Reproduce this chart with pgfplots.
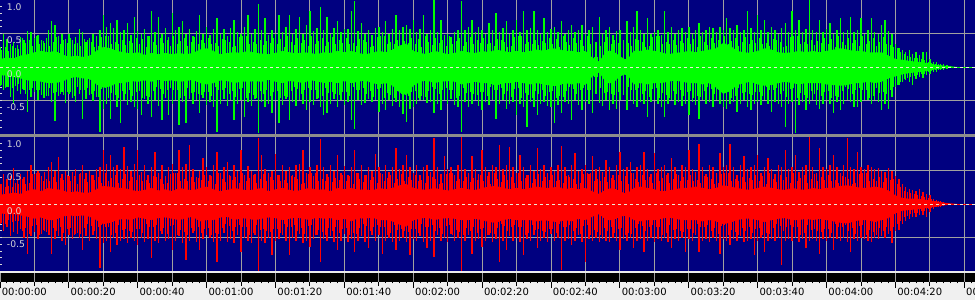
\documentclass[border=0pt]{standalone}
\usepackage{fontspec}
\setmainfont{DejaVu Sans}
\usepackage{pgfplots}
\usepackage{pgfplotstable}
\pgfplotsset{compat=1.18}
\usepgfplotslibrary{fillbetween}
\definecolor{navy}{RGB}{0,0,128}
\definecolor{gridc}{RGB}{160,160,160}
\definecolor{wgreen}{RGB}{0,255,0}
\definecolor{wred}{RGB}{255,0,0}
\definecolor{sepc}{RGB}{140,140,140}
\definecolor{rulerbg}{RGB}{240,240,240}
\definecolor{lab}{RGB}{215,215,215}
\definecolor{dashc}{RGB}{235,235,215}

% peak values per second: t, upper/lower of top (L) and bottom (R) channel
\pgfplotstableread{
t uL dL uR dR
0 .30 -.28 .30 -.30
1 .50 -.35 .45 -.40
2 .42 -.30 .38 -.35
3 .35 -.45 .42 -.48
4 .38 -.55 .53 -.42
5 .33 -.36 .36 -.45
6 .45 -.40 .45 -.38
7 .40 -.35 .40 -.50
8 .54 -.67 .50 -.74
9 .52 -.45 .58 -.48
10 .44 -.38 .45 -.42
11 .48 -.50 .50 -.52
12 .40 -.42 .42 -.45
13 .36 -.47 .48 -.40
14 .55 -.44 .55 -.47
15 .69 -.52 .63 -.74
16 .62 -.80 .50 -.52
17 .47 -.43 .70 -.48
18 .50 -.38 .45 -.55
19 .42 -.54 .50 -.61
20 .49 -.40 .42 -.46
21 .40 -.46 .48 -.52
22 .45 -.52 .52 -.45
23 .56 -.40 .45 -.50
24 .52 -.77 .58 -.69
25 .38 -.48 .47 -.48
26 .43 -.42 .50 -.55
27 .50 -.51 .44 -.47
28 .47 -.45 .52 -.52
29 .55 -.97 .55 -.96
30 .78 -.62 .80 -.58
31 .60 -.55 .60 -.55
32 .65 -.77 .73 -.71
33 .58 -.50 .55 -.50
34 .70 -.60 .58 -.61
35 .52 -.84 .52 -.55
36 .55 -.49 .85 -.52
37 .65 -.56 .56 -.58
38 .48 -.52 .50 -.50
39 .75 -.60 .60 -.55
40 .54 -.62 .80 -.61
41 .50 -.72 .48 -.50
42 .57 -.48 .58 -.56
43 .46 -.55 .44 -.52
44 .83 -.74 .55 -.81
45 .52 -.50 .78 -.55
46 .75 -.58 .47 -.58
47 .50 -.79 .58 -.45
48 .58 -.47 .42 -.55
49 .45 -.72 .55 -.52
50 .80 -.55 .60 -.69
51 .55 -.50 .46 -.55
52 .60 -.87 .80 -.48
53 .68 -.52 .55 -.58
54 .49 -.84 .60 -.84
55 .56 -.48 .88 -.55
56 .47 -.55 .52 -.44
57 .53 -.50 .41 -.56
58 .78 -.69 .50 -.69
59 .50 -.47 .68 -.52
60 .60 -.56 .55 -.46
61 .48 -.52 .44 -.50
62 .57 -.60 .58 -.56
63 .73 -.97 .78 -.86
64 .50 -.55 .47 -.55
65 .56 -.48 .55 -.43
66 .46 -.58 .63 -.56
67 .58 -.50 .42 -.52
68 .70 -.79 .58 -.58
69 .52 -.55 .49 -.47
70 .49 -.50 .80 -.71
71 .60 -.74 .44 -.50
72 .78 -.52 .56 -.55
73 .50 -.58 .50 -.58
74 .56 -.48 .45 -.47
75 .94 -.99 .99 -1.0
76 .55 -.52 .73 -.55
77 .73 -.60 .52 -.58
78 .48 -.55 .46 -.50
79 .55 -.69 .50 -.76
80 .50 -.50 .75 -.55
81 .78 -.84 .44 -.52
82 .52 -.56 .58 -.46
83 .60 -.48 .50 -.55
84 .78 -.79 .55 -.76
85 .50 -.52 .43 -.50
86 .57 -.58 .58 -.55
87 .75 -.50 .60 -.45
88 .50 -.55 .80 -.58
89 .62 -.64 .47 -.55
90 .83 -.52 .55 -.64
91 .53 -.56 .42 -.52
92 .58 -.48 .58 -.46
93 .89 -.60 .97 -.86
94 .55 -.72 .55 -.52
95 .75 -.69 .45 -.55
96 .50 -.55 .58 -.48
97 .58 -.48 .50 -.56
98 .68 -.59 .73 -.69
99 .52 -.50 .46 -.55
100 .57 -.56 .56 -.45
101 .56 -.52 .44 -.56
102 .83 -.79 .55 -.52
103 .98 -.92 .80 -.71
104 .53 -.50 .47 -.55
105 .65 -.57 .58 -.48
106 .50 -.54 .43 -.56
107 .55 -.48 .55 -.66
108 .48 -.52 .50 -.47
109 .58 -.50 .75 -.55
110 .60 -.67 .55 -.46
111 .52 -.55 .45 -.74
112 .68 -.64 .58 -.55
113 .50 -.50 .48 -.50
114 .56 -.58 .55 -.56
115 .78 -.52 .83 -.69
116 .55 -.60 .52 -.55
117 .60 -.70 .58 -.50
118 .63 -.82 .73 -.56
119 .56 -.62 .55 -.76
120 .70 -.59 .46 -.52
121 .52 -.55 .58 -.55
122 .57 -.50 .44 -.48
123 .78 -.49 .55 -.56
124 .50 -.54 .58 -.66
125 .55 -.52 .48 -.55
126 1.0 -.69 .99 -.79
127 .52 -.55 .55 -.47
128 .70 -.64 .45 -.55
129 .48 -.50 .71 -.50
130 .50 -.55 .52 -.56
131 .45 -.48 .55 -.45
132 .52 -.56 .43 -.55
133 .55 -.60 .58 -.50
134 .98 -.97 1.0 -1.0
135 .55 -.52 .52 -.55
136 .60 -.59 .47 -.46
137 .70 -.55 .71 -.74
138 .52 -.50 .52 -.55
139 .60 -.58 .45 -.52
140 .55 -.64 .80 -.64
141 .50 -.52 .55 -.55
142 .65 -.56 .48 -.47
143 .55 -.50 .58 -.56
144 .81 -.77 .55 -.52
145 .52 -.55 .88 -.86
146 .58 -.50 .52 -.55
147 .68 -.62 .58 -.69
148 .50 -.55 .85 -.48
149 .55 -.52 .55 -.55
150 .70 -.72 .46 -.50
151 .52 -.55 .73 -.56
152 .83 -.60 .55 -.76
153 .55 -.89 .44 -.52
154 .58 -.52 .58 -.55
155 .83 -.60 .50 -.47
156 .55 -.72 .83 -.66
157 .50 -.55 .52 -.55
158 .73 -.52 .58 -.50
159 .52 -.58 .46 -.56
160 .56 -.60 .55 -.45
161 .60 -.84 .49 -.55
162 .52 -.56 .58 -.50
163 .68 -.69 .86 -.98
164 .50 -.52 .55 -.55
165 .55 -.55 .44 -.52
166 .63 -.79 .58 -.61
167 .52 -.50 .76 -.55
168 .55 -.56 .50 -.47
169 .63 -.64 .52 -.56
170 .50 -.52 .58 -.86
171 .55 -.55 .45 -.52
172 .60 -.69 .71 -.55
173 .38 -.40 .52 -.50
174 .75 -.54 .55 -.56
175 .50 -.58 .48 -.52
176 .55 -.50 .66 -.55
177 .60 -.64 .55 -.56
178 .48 -.55 .44 -.50
179 .53 -.62 .58 -.55
180 .55 -.50 .78 -.69
181 .40 -.42 .52 -.52
182 .68 -.64 .55 -.55
183 .52 -.50 .63 -.50
184 .60 -.55 .47 -.66
185 .83 -.59 .55 -.55
186 .55 -.52 .58 -.52
187 .50 -.55 .78 -.71
188 .73 -.74 .52 -.55
189 .50 -.52 .45 -.50
190 .52 -.50 .76 -.56
191 .55 -.55 .52 -.52
192 .48 -.60 .55 -.55
193 .83 -.74 .58 -.50
194 .52 -.55 .46 -.56
195 .60 -.50 .68 -.66
196 .50 -.56 .55 -.52
197 .55 -.52 .44 -.55
198 .58 -.58 .58 -.50
199 .52 -.55 .55 -.71
200 .60 -.72 .80 -.52
201 .50 -.52 .52 -.55
202 .55 -.56 .48 -.46
203 .65 -.77 .90 -.71
204 .52 -.50 .55 -.55
205 .55 -.55 .45 -.52
206 .60 -.52 .58 -.56
207 .58 -.59 .55 -.50
208 .52 -.50 .47 -.55
209 .60 -.55 .76 -.74
210 .55 -.60 .55 -.52
211 .73 -.62 .58 -.55
212 .58 -.55 .90 -.61
213 .55 -.52 .55 -.52
214 .63 -.67 .44 -.55
215 .52 -.55 .58 -.48
216 .55 -.50 .71 -.56
217 .83 -.60 .52 -.55
218 .58 -.64 .55 -.52
219 .52 -.55 .58 -.76
220 .78 -.52 .73 -.55
221 .55 -.57 .46 -.50
222 .70 -.50 .55 -.71
223 .52 -.55 .68 -.55
224 .60 -.67 .52 -.52
225 .55 -.52 .45 -.55
226 .50 -.55 .58 -.50
227 .58 -.60 .55 -.91
228 .65 -.89 .80 -.55
229 .52 -.55 .52 -.52
230 .83 -.52 .55 -.55
231 .55 -.99 .73 -.50
232 .70 -.56 .48 -.56
233 .52 -.52 .55 -.52
234 .56 -.64 .58 -.66
235 1.0 -.55 1.0 -.55
236 .55 -.50 .55 -.52
237 .52 -.56 .46 -.55
238 .70 -.62 .83 -.74
239 .52 -.55 .55 -.52
240 .56 -.50 .52 -.55
241 .65 -.55 .58 -.50
242 .50 -.69 .73 -.69
243 .55 -.52 .55 -.52
244 .73 -.64 .47 -.55
245 .52 -.55 .58 -.50
246 .55 -.50 .98 -.56
247 .75 -.52 .55 -.71
248 .52 -.60 .52 -.52
249 .55 -.59 .78 -.55
250 .73 -.52 .55 -.50
251 .50 -.49 .52 -.52
252 .55 -.50 .58 -.55
253 .73 -.55 .55 -.56
254 .52 -.50 .52 -.50
255 .50 -.52 .53 -.52
256 .63 -.64 .50 -.48
257 .70 -.55 .48 -.50
258 .53 -.62 .53 -.45
259 .50 -.45 .50 -.58
260 .35 -.30 .42 -.40
261 .28 -.27 .38 -.39
262 .25 -.22 .30 -.30
263 .22 -.20 .25 -.25
264 .25 -.22 .22 -.22
265 .20 -.27 .21 -.20
266 .23 -.18 .20 -.19
267 .18 -.15 .23 -.17
268 .23 -.16 .18 -.16
269 .22 -.12 .15 -.19
270 .12 -.10 .13 -.12
271 .08 -.07 .08 -.07
272 .08 -.07 .06 -.05
273 .05 -.05 .04 -.04
274 .04 -.04 .03 -.03
275 .03 -.03 .02 -.02
276 .02 -.02 0 0
}\spk

% lower fringe spikes between the whole seconds
\pgfplotstableread{
t mL nL mR nR
0.5 .26 -.27 .30 -.28
1.5 .30 -.32 .26 -.30
2.5 .24 -.30 .27 -.24
3.5 .32 -.31 .25 -.27
4.5 .29 -.28 .31 -.26
5.5 .27 -.25 .30 -.25
6.5 .44 -.33 .37 -.41
7.5 .36 -.40 .30 -.36
8.5 .40 -.35 .31 -.45
9.5 .31 -.32 .45 -.33
10.5 .47 -.34 .46 -.32
11.5 .35 -.34 .47 -.46
12.5 .39 -.46 .34 -.39
13.5 .43 -.44 .38 -.42
14.5 .32 -.31 .35 -.47
15.5 .37 -.39 .41 -.36
16.5 .45 -.37 .33 -.40
17.5 .34 -.41 .39 -.34
18.5 .41 -.42 .36 -.44
19.5 .36 -.38 .44 -.37
20.5 .43 -.38 .34 -.36
21.5 .34 -.43 .42 -.47
22.5 .36 -.30 .30 -.43
23.5 .32 -.35 .46 -.45
24.5 .42 -.34 .38 -.36
25.5 .40 -.31 .33 -.30
26.5 .37 -.41 .44 -.33
27.5 .30 -.36 .36 -.40
28.5 .31 -.45 .40 -.35
29.5 .45 -.33 .31 -.32
30.5 .46 -.32 .47 -.34
31.5 .47 -.46 .35 -.34
32.5 .34 -.39 .39 -.46
33.5 .38 -.42 .43 -.44
34.5 .35 -.47 .32 -.31
35.5 .41 -.36 .37 -.39
36.5 .33 -.40 .45 -.37
37.5 .39 -.34 .34 -.41
38.5 .36 -.44 .41 -.42
39.5 .44 -.37 .36 -.38
40.5 .34 -.36 .43 -.38
41.5 .42 -.47 .34 -.43
42.5 .30 -.43 .36 -.30
43.5 .46 -.45 .32 -.35
44.5 .38 -.36 .42 -.34
45.5 .33 -.30 .40 -.31
46.5 .44 -.33 .37 -.41
47.5 .36 -.40 .30 -.36
48.5 .40 -.35 .31 -.45
49.5 .31 -.32 .45 -.33
50.5 .47 -.34 .46 -.32
51.5 .35 -.34 .47 -.46
52.5 .39 -.46 .34 -.39
53.5 .43 -.44 .38 -.42
54.5 .32 -.31 .35 -.47
55.5 .37 -.39 .41 -.36
56.5 .45 -.37 .33 -.40
57.5 .34 -.41 .39 -.34
58.5 .41 -.42 .36 -.44
59.5 .36 -.38 .44 -.37
60.5 .43 -.38 .34 -.36
61.5 .34 -.43 .42 -.47
62.5 .36 -.30 .30 -.43
63.5 .32 -.35 .46 -.45
64.5 .42 -.34 .38 -.36
65.5 .40 -.31 .33 -.30
66.5 .37 -.41 .44 -.33
67.5 .30 -.36 .36 -.40
68.5 .31 -.45 .40 -.35
69.5 .45 -.33 .31 -.32
70.5 .46 -.32 .47 -.34
71.5 .47 -.46 .35 -.34
72.5 .34 -.39 .39 -.46
73.5 .38 -.42 .43 -.44
74.5 .35 -.47 .32 -.31
75.5 .41 -.36 .37 -.39
76.5 .33 -.40 .45 -.37
77.5 .39 -.34 .34 -.41
78.5 .36 -.44 .41 -.42
79.5 .44 -.37 .36 -.38
80.5 .34 -.36 .43 -.38
81.5 .42 -.47 .34 -.43
82.5 .30 -.43 .36 -.30
83.5 .46 -.45 .32 -.35
84.5 .38 -.36 .42 -.34
85.5 .33 -.30 .40 -.31
86.5 .44 -.33 .37 -.41
87.5 .36 -.40 .30 -.36
88.5 .40 -.35 .31 -.45
89.5 .31 -.32 .45 -.33
90.5 .47 -.34 .46 -.32
91.5 .35 -.34 .47 -.46
92.5 .39 -.46 .34 -.39
93.5 .43 -.44 .38 -.42
94.5 .32 -.31 .35 -.47
95.5 .37 -.39 .41 -.36
96.5 .45 -.37 .33 -.40
97.5 .34 -.41 .39 -.34
98.5 .41 -.42 .36 -.44
99.5 .36 -.38 .44 -.37
100.5 .43 -.38 .34 -.36
101.5 .34 -.43 .42 -.47
102.5 .36 -.30 .30 -.43
103.5 .32 -.35 .46 -.45
104.5 .42 -.34 .38 -.36
105.5 .40 -.31 .33 -.30
106.5 .37 -.41 .44 -.33
107.5 .30 -.36 .36 -.40
108.5 .31 -.45 .40 -.35
109.5 .45 -.33 .31 -.32
110.5 .46 -.32 .47 -.34
111.5 .47 -.46 .35 -.34
112.5 .34 -.39 .39 -.46
113.5 .38 -.42 .43 -.44
114.5 .35 -.47 .32 -.31
115.5 .41 -.36 .37 -.39
116.5 .33 -.40 .45 -.37
117.5 .39 -.34 .34 -.41
118.5 .36 -.44 .41 -.42
119.5 .44 -.37 .36 -.38
120.5 .34 -.36 .43 -.38
121.5 .42 -.47 .34 -.43
122.5 .30 -.43 .36 -.30
123.5 .46 -.45 .32 -.35
124.5 .38 -.36 .42 -.34
125.5 .33 -.30 .40 -.31
126.5 .44 -.33 .37 -.41
127.5 .36 -.40 .30 -.36
128.5 .40 -.35 .31 -.45
129.5 .31 -.32 .45 -.33
130.5 .47 -.34 .46 -.32
131.5 .35 -.34 .47 -.46
132.5 .39 -.46 .34 -.39
133.5 .43 -.44 .38 -.42
134.5 .32 -.31 .35 -.47
135.5 .37 -.39 .41 -.36
136.5 .45 -.37 .33 -.40
137.5 .34 -.41 .39 -.34
138.5 .41 -.42 .36 -.44
139.5 .36 -.38 .44 -.37
140.5 .43 -.38 .34 -.36
141.5 .34 -.43 .42 -.47
142.5 .36 -.30 .30 -.43
143.5 .32 -.35 .46 -.45
144.5 .42 -.34 .38 -.36
145.5 .40 -.31 .33 -.30
146.5 .37 -.41 .44 -.33
147.5 .30 -.36 .36 -.40
148.5 .31 -.45 .40 -.35
149.5 .45 -.33 .31 -.32
150.5 .46 -.32 .47 -.34
151.5 .47 -.46 .35 -.34
152.5 .34 -.39 .39 -.46
153.5 .38 -.42 .43 -.44
154.5 .35 -.47 .32 -.31
155.5 .41 -.36 .37 -.39
156.5 .33 -.40 .45 -.37
157.5 .39 -.34 .34 -.41
158.5 .36 -.44 .41 -.42
159.5 .44 -.37 .36 -.38
160.5 .34 -.36 .43 -.38
161.5 .42 -.47 .34 -.43
162.5 .30 -.43 .36 -.30
163.5 .46 -.45 .32 -.35
164.5 .38 -.36 .42 -.34
165.5 .33 -.30 .40 -.31
166.5 .44 -.33 .37 -.41
167.5 .36 -.40 .30 -.36
168.5 .40 -.35 .31 -.45
169.5 .31 -.32 .45 -.33
170.5 .47 -.34 .46 -.32
171.5 .35 -.34 .47 -.46
172.5 .15 -.15 .34 -.39
173.5 .15 -.15 .38 -.42
174.5 .32 -.31 .35 -.47
175.5 .37 -.39 .41 -.36
176.5 .45 -.37 .33 -.40
177.5 .34 -.41 .39 -.34
178.5 .41 -.42 .36 -.44
179.5 .36 -.38 .44 -.37
180.5 .12 -.12 .34 -.36
181.5 .12 -.12 .42 -.47
182.5 .36 -.30 .30 -.43
183.5 .32 -.35 .46 -.45
184.5 .42 -.34 .38 -.36
185.5 .40 -.31 .33 -.30
186.5 .37 -.41 .44 -.33
187.5 .30 -.36 .36 -.40
188.5 .31 -.45 .40 -.35
189.5 .45 -.33 .31 -.32
190.5 .46 -.32 .47 -.34
191.5 .47 -.46 .35 -.34
192.5 .34 -.39 .39 -.46
193.5 .38 -.42 .43 -.44
194.5 .35 -.47 .32 -.31
195.5 .41 -.36 .37 -.39
196.5 .33 -.40 .45 -.37
197.5 .39 -.34 .34 -.41
198.5 .36 -.44 .41 -.42
199.5 .44 -.37 .36 -.38
200.5 .34 -.36 .43 -.38
201.5 .42 -.47 .34 -.43
202.5 .30 -.43 .36 -.30
203.5 .46 -.45 .32 -.35
204.5 .38 -.36 .42 -.34
205.5 .33 -.30 .40 -.31
206.5 .44 -.33 .37 -.41
207.5 .36 -.40 .30 -.36
208.5 .40 -.35 .31 -.45
209.5 .31 -.32 .45 -.33
210.5 .47 -.34 .46 -.32
211.5 .35 -.34 .47 -.46
212.5 .39 -.46 .34 -.39
213.5 .43 -.44 .38 -.42
214.5 .32 -.31 .35 -.47
215.5 .37 -.39 .41 -.36
216.5 .45 -.37 .33 -.40
217.5 .34 -.41 .39 -.34
218.5 .41 -.42 .36 -.44
219.5 .36 -.38 .44 -.37
220.5 .43 -.38 .34 -.36
221.5 .34 -.43 .42 -.47
222.5 .36 -.30 .30 -.43
223.5 .32 -.35 .46 -.45
224.5 .42 -.34 .38 -.36
225.5 .40 -.31 .33 -.30
226.5 .37 -.41 .44 -.33
227.5 .30 -.36 .36 -.40
228.5 .31 -.45 .40 -.35
229.5 .45 -.33 .31 -.32
230.5 .46 -.32 .47 -.34
231.5 .47 -.46 .35 -.34
232.5 .34 -.39 .39 -.46
233.5 .38 -.42 .43 -.44
234.5 .35 -.47 .32 -.31
235.5 .41 -.36 .37 -.39
236.5 .33 -.40 .45 -.37
237.5 .39 -.34 .34 -.41
238.5 .36 -.44 .41 -.42
239.5 .44 -.37 .36 -.38
240.5 .34 -.36 .43 -.38
241.5 .42 -.47 .34 -.43
242.5 .30 -.43 .36 -.30
243.5 .46 -.45 .32 -.35
244.5 .38 -.36 .42 -.34
245.5 .33 -.30 .40 -.31
246.5 .44 -.33 .37 -.41
247.5 .36 -.40 .30 -.36
248.5 .40 -.35 .31 -.45
249.5 .31 -.32 .45 -.33
250.5 .47 -.34 .46 -.32
251.5 .35 -.34 .47 -.46
252.5 .39 -.46 .34 -.39
253.5 .43 -.44 .38 -.42
254.5 .32 -.31 .35 -.47
255.5 .37 -.39 .41 -.36
256.5 .45 -.37 .33 -.40
257.5 .34 -.41 .39 -.34
258.5 .33 -.35 .36 -.40
259.5 .30 -.30 .38 -.34
260.5 .28 -.27 .30 -.30
261.5 .22 -.22 .25 -.26
262.5 .20 -.18 .20 -.20
263.5 .17 -.16 .18 -.18
264.5 .15 -.15 .16 -.15
265.5 .14 -.13 .15 -.14
266.5 .13 -.12 .13 -.13
267.5 .12 -.11 .12 -.11
268.5 .10 -.10 .10 -.10
269.5 .08 -.08 .09 -.08
270.5 .06 -.06 .07 -.06
271.5 .05 -.05 .05 -.05
272.5 .04 -.04 .04 -.04
273.5 .03 -.03 .03 -.03
274.5 .02 -.02 .02 -.02
}\mid

% dense core envelope every 2 s
\pgfplotstableread{
t cuL cdL cuR cdR
0 .12 -.12 .14 -.14
2 .14 -.13 .15 -.15
4 .13 -.15 .17 -.15
6 .17 -.17 .15 -.17
8 .19 -.20 .20 -.19
10 .22 -.21 .22 -.22
12 .24 -.22 .19 -.20
14 .22 -.24 .24 -.24
16 .24 -.24 .22 -.24
18 .19 -.22 .21 -.19
20 .15 -.17 .17 -.17
22 .17 -.15 .19 -.18
24 .15 -.17 .17 -.17
26 .17 -.18 .17 -.19
28 .24 -.26 .22 -.24
30 .30 -.31 .27 -.30
32 .28 -.29 .26 -.28
34 .24 -.24 .24 -.24
36 .22 -.24 .24 -.22
38 .20 -.21 .21 -.24
40 .22 -.22 .19 -.20
42 .18 -.20 .21 -.22
44 .21 -.22 .24 -.24
46 .19 -.19 .20 -.21
48 .21 -.21 .22 -.20
50 .19 -.20 .19 -.22
52 .21 -.22 .24 -.24
54 .19 -.21 .22 -.21
56 .21 -.19 .20 -.19
58 .26 -.24 .24 -.26
60 .28 -.26 .26 -.24
62 .24 -.24 .22 -.24
64 .19 -.20 .19 -.20
66 .21 -.21 .21 -.19
68 .22 -.24 .24 -.24
70 .21 -.22 .22 -.21
72 .24 -.22 .20 -.22
74 .21 -.21 .22 -.24
76 .20 -.22 .24 -.22
78 .19 -.19 .19 -.20
80 .21 -.22 .22 -.21
82 .24 -.24 .24 -.24
84 .22 -.21 .21 -.22
86 .20 -.22 .19 -.20
88 .22 -.24 .22 -.22
90 .21 -.20 .24 -.24
92 .19 -.21 .21 -.20
94 .22 -.24 .22 -.22
96 .21 -.22 .19 -.21
98 .24 -.24 .24 -.24
100 .22 -.21 .22 -.22
102 .24 -.24 .24 -.26
104 .21 -.22 .21 -.21
106 .19 -.20 .22 -.22
108 .21 -.24 .20 -.20
110 .24 -.26 .24 -.24
112 .22 -.24 .22 -.24
114 .26 -.28 .24 -.26
116 .32 -.38 .28 -.31
118 .35 -.42 .30 -.34
120 .24 -.28 .24 -.24
122 .21 -.22 .22 -.22
124 .19 -.20 .21 -.20
126 .24 -.24 .24 -.24
128 .22 -.22 .22 -.22
130 .19 -.21 .20 -.21
132 .21 -.22 .22 -.22
134 .24 -.26 .24 -.24
136 .22 -.24 .22 -.24
138 .21 -.22 .21 -.22
140 .24 -.24 .24 -.24
142 .22 -.24 .26 -.27
144 .26 -.28 .27 -.28
146 .24 -.24 .24 -.24
148 .22 -.24 .22 -.22
150 .24 -.22 .24 -.24
152 .22 -.24 .22 -.24
154 .24 -.26 .24 -.24
156 .26 -.24 .26 -.26
158 .24 -.26 .24 -.24
160 .28 -.28 .24 -.26
162 .27 -.28 .26 -.27
164 .24 -.24 .22 -.24
166 .24 -.26 .24 -.26
168 .22 -.24 .22 -.22
170 .24 -.27 .24 -.24
172 .14 -.14 .19 -.19
174 .08 -.08 .15 -.15
176 .24 -.24 .22 -.24
178 .24 -.24 .24 -.24
180 .16 -.14 .19 -.19
182 .10 -.10 .15 -.17
184 .24 -.26 .24 -.24
186 .24 -.24 .26 -.26
188 .26 -.26 .24 -.24
190 .24 -.24 .22 -.24
192 .22 -.24 .19 -.22
194 .19 -.22 .20 -.20
196 .21 -.20 .22 -.22
198 .22 -.22 .24 -.24
200 .24 -.24 .24 -.24
202 .22 -.24 .26 -.24
204 .24 -.26 .24 -.26
206 .26 -.24 .22 -.24
208 .28 -.31 .24 -.26
210 .36 -.40 .28 -.30
212 .32 -.36 .26 -.28
214 .24 -.27 .24 -.24
216 .22 -.24 .22 -.22
218 .21 -.22 .21 -.22
220 .24 -.26 .24 -.24
222 .28 -.28 .26 -.27
224 .26 -.27 .24 -.24
226 .22 -.24 .22 -.22
228 .21 -.22 .21 -.21
230 .22 -.24 .24 -.24
232 .24 -.26 .22 -.24
234 .22 -.24 .21 -.22
236 .24 -.24 .24 -.24
238 .22 -.24 .22 -.22
240 .24 -.26 .24 -.24
242 .26 -.27 .24 -.26
244 .28 -.28 .27 -.28
246 .26 -.27 .28 -.29
248 .24 -.24 .26 -.26
250 .24 -.24 .24 -.24
252 .22 -.22 .24 -.24
254 .22 -.24 .26 -.27
256 .22 -.22 .24 -.24
258 .17 -.17 .20 -.21
260 .12 -.14 .13 -.14
262 .11 -.11 .09 -.10
264 .09 -.09 .08 -.09
266 .08 -.08 .08 -.08
268 .07 -.07 .07 -.07
270 .05 -.05 .05 -.05
272 .03 -.03 .04 -.04
274 .02 -.02 .02 -.02
276 .01 -.01 .01 -.01
278 0 0 0 0
283.1 0 0 0 0
}\core

\pgfplotsset{
  wave/.style={
    scale only axis, width=731.25pt, height=100.5pt,
    anchor=north west,
    xmin=0, xmax=283.1, ymin=-1, ymax=1,
    axis background/.style={fill=navy},
    axis line style={draw=none},
    xtick={10,20,...,280}, xticklabels={},
    ytick={-0.5,0.5}, yticklabels={},
    minor ytick={-0.9,-0.8,-0.7,-0.6,-0.4,-0.3,-0.2,-0.1,0,0.1,0.2,0.3,0.4,0.6,0.7,0.8,0.9},
    grid=major, major grid style={gridc, line width=0.75pt},
    xtick style={draw=none},
    ytick pos=left, tick align=inside,
    ytick style={lab, line width=0.6pt},
    major tick length=1.6pt, minor tick length=1.6pt,
  },
}
\tikzset{ylab/.style={anchor=north west, lab, inner sep=0pt, font=\fontsize{6.9}{7}\selectfont, xshift=5pt, yshift=-2.4pt}}

\begin{document}
\begin{tikzpicture}
\fill[sepc] (0,-100.5pt) rectangle (731.25pt,-102.75pt);
\fill[black!8] (0,-203.25pt) rectangle (731.25pt,-204.375pt);
\fill[rulerbg] (0,-211.5pt) rectangle (731.25pt,-225pt);

% top channel
\begin{axis}[wave, at={(0pt,0pt)}]
\addplot[name path=cuL, draw=none] table[x=t,y=cuL]{\core};
\addplot[name path=cdL, draw=none] table[x=t,y=cdL]{\core};
\addplot[wgreen] fill between[of=cuL and cdL];
\addplot[ycomb, wgreen, line width=0.75pt, mark=none] table[x=t,y=mL]{\mid};
\addplot[ycomb, wgreen, line width=0.75pt, mark=none] table[x=t,y=nL]{\mid};
\addplot[ycomb, wgreen, line width=1.05pt, mark=none] table[x=t,y=uL]{\spk};
\addplot[ycomb, wgreen, line width=1.05pt, mark=none] table[x=t,y=dL]{\spk};
\addplot[wgreen, line width=0.75pt] coordinates {(0,0) (283.1,0)};
\addplot[dashc, line width=0.75pt, dash pattern=on 2.6pt off 1.9pt] coordinates {(0,0) (283.1,0)};
\node[ylab] at (axis cs:0,1) {1.0};
\node[ylab] at (axis cs:0,0.5) {0.5};
\node[ylab] at (axis cs:0,0) {0.0};
\node[ylab] at (axis cs:0,-0.5) {-0.5};
\end{axis}

% bottom channel
\begin{axis}[wave, at={(0pt,-102.75pt)}]
\addplot[name path=cuR, draw=none] table[x=t,y=cuR]{\core};
\addplot[name path=cdR, draw=none] table[x=t,y=cdR]{\core};
\addplot[wred] fill between[of=cuR and cdR];
\addplot[ycomb, wred, line width=0.75pt, mark=none] table[x=t,y=mR]{\mid};
\addplot[ycomb, wred, line width=0.75pt, mark=none] table[x=t,y=nR]{\mid};
\addplot[ycomb, wred, line width=1.05pt, mark=none] table[x=t,y=uR]{\spk};
\addplot[ycomb, wred, line width=1.05pt, mark=none] table[x=t,y=dR]{\spk};
\addplot[wred, line width=0.75pt] coordinates {(0,0) (283.1,0)};
\addplot[dashc, line width=0.75pt, dash pattern=on 2.6pt off 1.9pt] coordinates {(0,0) (283.1,0)};
\node[ylab] at (axis cs:0,1) {1.0};
\node[ylab] at (axis cs:0,0.5) {0.5};
\node[ylab] at (axis cs:0,0) {0.0};
\node[ylab] at (axis cs:0,-0.5) {-0.5};
\end{axis}

% black band and time ruler
\begin{axis}[
  scale only axis, width=731.25pt, height=7.125pt,
  at={(0pt,-204.375pt)}, anchor=north west,
  xmin=0, xmax=283.1, ymin=0, ymax=1,
  axis background/.style={fill=black},
  axis line style={draw=none},
  ytick=\empty,
  xtick={0,20,...,280},
  xticklabels={00:00:00,00:00:20,00:00:40,00:01:00,00:01:20,00:01:40,00:02:00,00:02:20,00:02:40,00:03:00,00:03:20,00:03:40,00:04:00,00:04:20,00:04:40},
  extra x ticks={10,30,...,270},
  extra x tick labels={},
  extra x tick style={major tick length=3pt, grid=major},
  minor xtick={2,4,...,282},
  xmajorgrids, major grid style={gridc, line width=0.75pt},
  tick align=outside, xtick pos=bottom,
  major tick length=4.5pt, minor tick length=1.1pt,
  tick style={black, line width=0.7pt},
  xticklabel style={anchor=north west, inner sep=0pt, font=\fontsize{7.5}{8}\selectfont, xshift=1.2pt},
]
\addplot[draw=none] coordinates {(0,0.5) (283.1,0.5)};
\end{axis}
\pgfresetboundingbox
\path[use as bounding box] (0,0) rectangle (731.25pt,-225pt);
\end{tikzpicture}
\end{document}
